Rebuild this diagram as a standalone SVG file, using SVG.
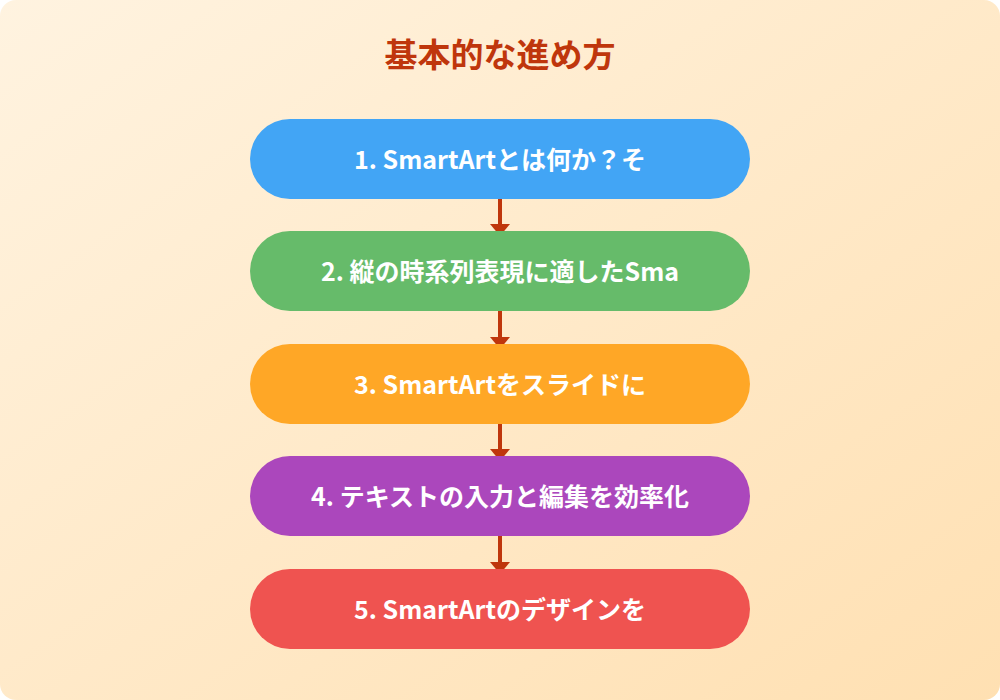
<svg xmlns="http://www.w3.org/2000/svg" width="1000" height="700" viewBox="0 0 1000 700">
<defs>
<linearGradient id="bg" x1="0" y1="0" x2="1" y2="1">
<stop offset="0" stop-color="#FFF3E0"/>
<stop offset="1" stop-color="#FFE0B2"/>
</linearGradient>
<marker id="ah" markerWidth="12" markerHeight="20" refX="0" refY="10" orient="auto" markerUnits="userSpaceOnUse" viewBox="0 0 12 20">
<path d="M0,0 L12,10 L0,20 Z" fill="#BF360C"/>
</marker>
<style>
.t{font-family:"Noto Sans CJK JP","Noto Sans",sans-serif;font-weight:bold;}
.title{font-size:33px;fill:#BF360C;}
.lbl{font-size:25px;fill:#FFFFFF;}
.conn{stroke:#BF360C;stroke-width:4;fill:none;}
</style>
</defs>
<rect x="0" y="0" width="1000" height="700" rx="16" fill="url(#bg)"/>
<text class="t title" x="500" y="67" text-anchor="middle">基本的な進め方</text>
<g id="connectors">
<line class="conn" x1="500" y1="199" x2="500" y2="224" marker-end="url(#ah)"/>
<line class="conn" x1="500" y1="311" x2="500" y2="337" marker-end="url(#ah)"/>
<line class="conn" x1="500" y1="424" x2="500" y2="449" marker-end="url(#ah)"/>
<line class="conn" x1="500" y1="536" x2="500" y2="562" marker-end="url(#ah)"/>
</g>
<g id="node1">
<rect x="250" y="119" width="500" height="80" rx="40" fill="#42A5F5"/>
<text class="t lbl" x="500" y="169" text-anchor="middle">1. SmartArtとは何か？そ</text>
</g>
<g id="node2">
<rect x="250" y="231" width="500" height="80" rx="40" fill="#66BB6A"/>
<text class="t lbl" x="500" y="281" text-anchor="middle">2. 縦の時系列表現に適したSma</text>
</g>
<g id="node3">
<rect x="250" y="344" width="500" height="80" rx="40" fill="#FFA726"/>
<text class="t lbl" x="500" y="394" text-anchor="middle">3. SmartArtをスライドに</text>
</g>
<g id="node4">
<rect x="250" y="456" width="500" height="80" rx="40" fill="#AB47BC"/>
<text class="t lbl" x="500" y="506" text-anchor="middle">4. テキストの入力と編集を効率化</text>
</g>
<g id="node5">
<rect x="250" y="569" width="500" height="80" rx="40" fill="#EF5350"/>
<text class="t lbl" x="500" y="619" text-anchor="middle">5. SmartArtのデザインを</text>
</g>
</svg>
